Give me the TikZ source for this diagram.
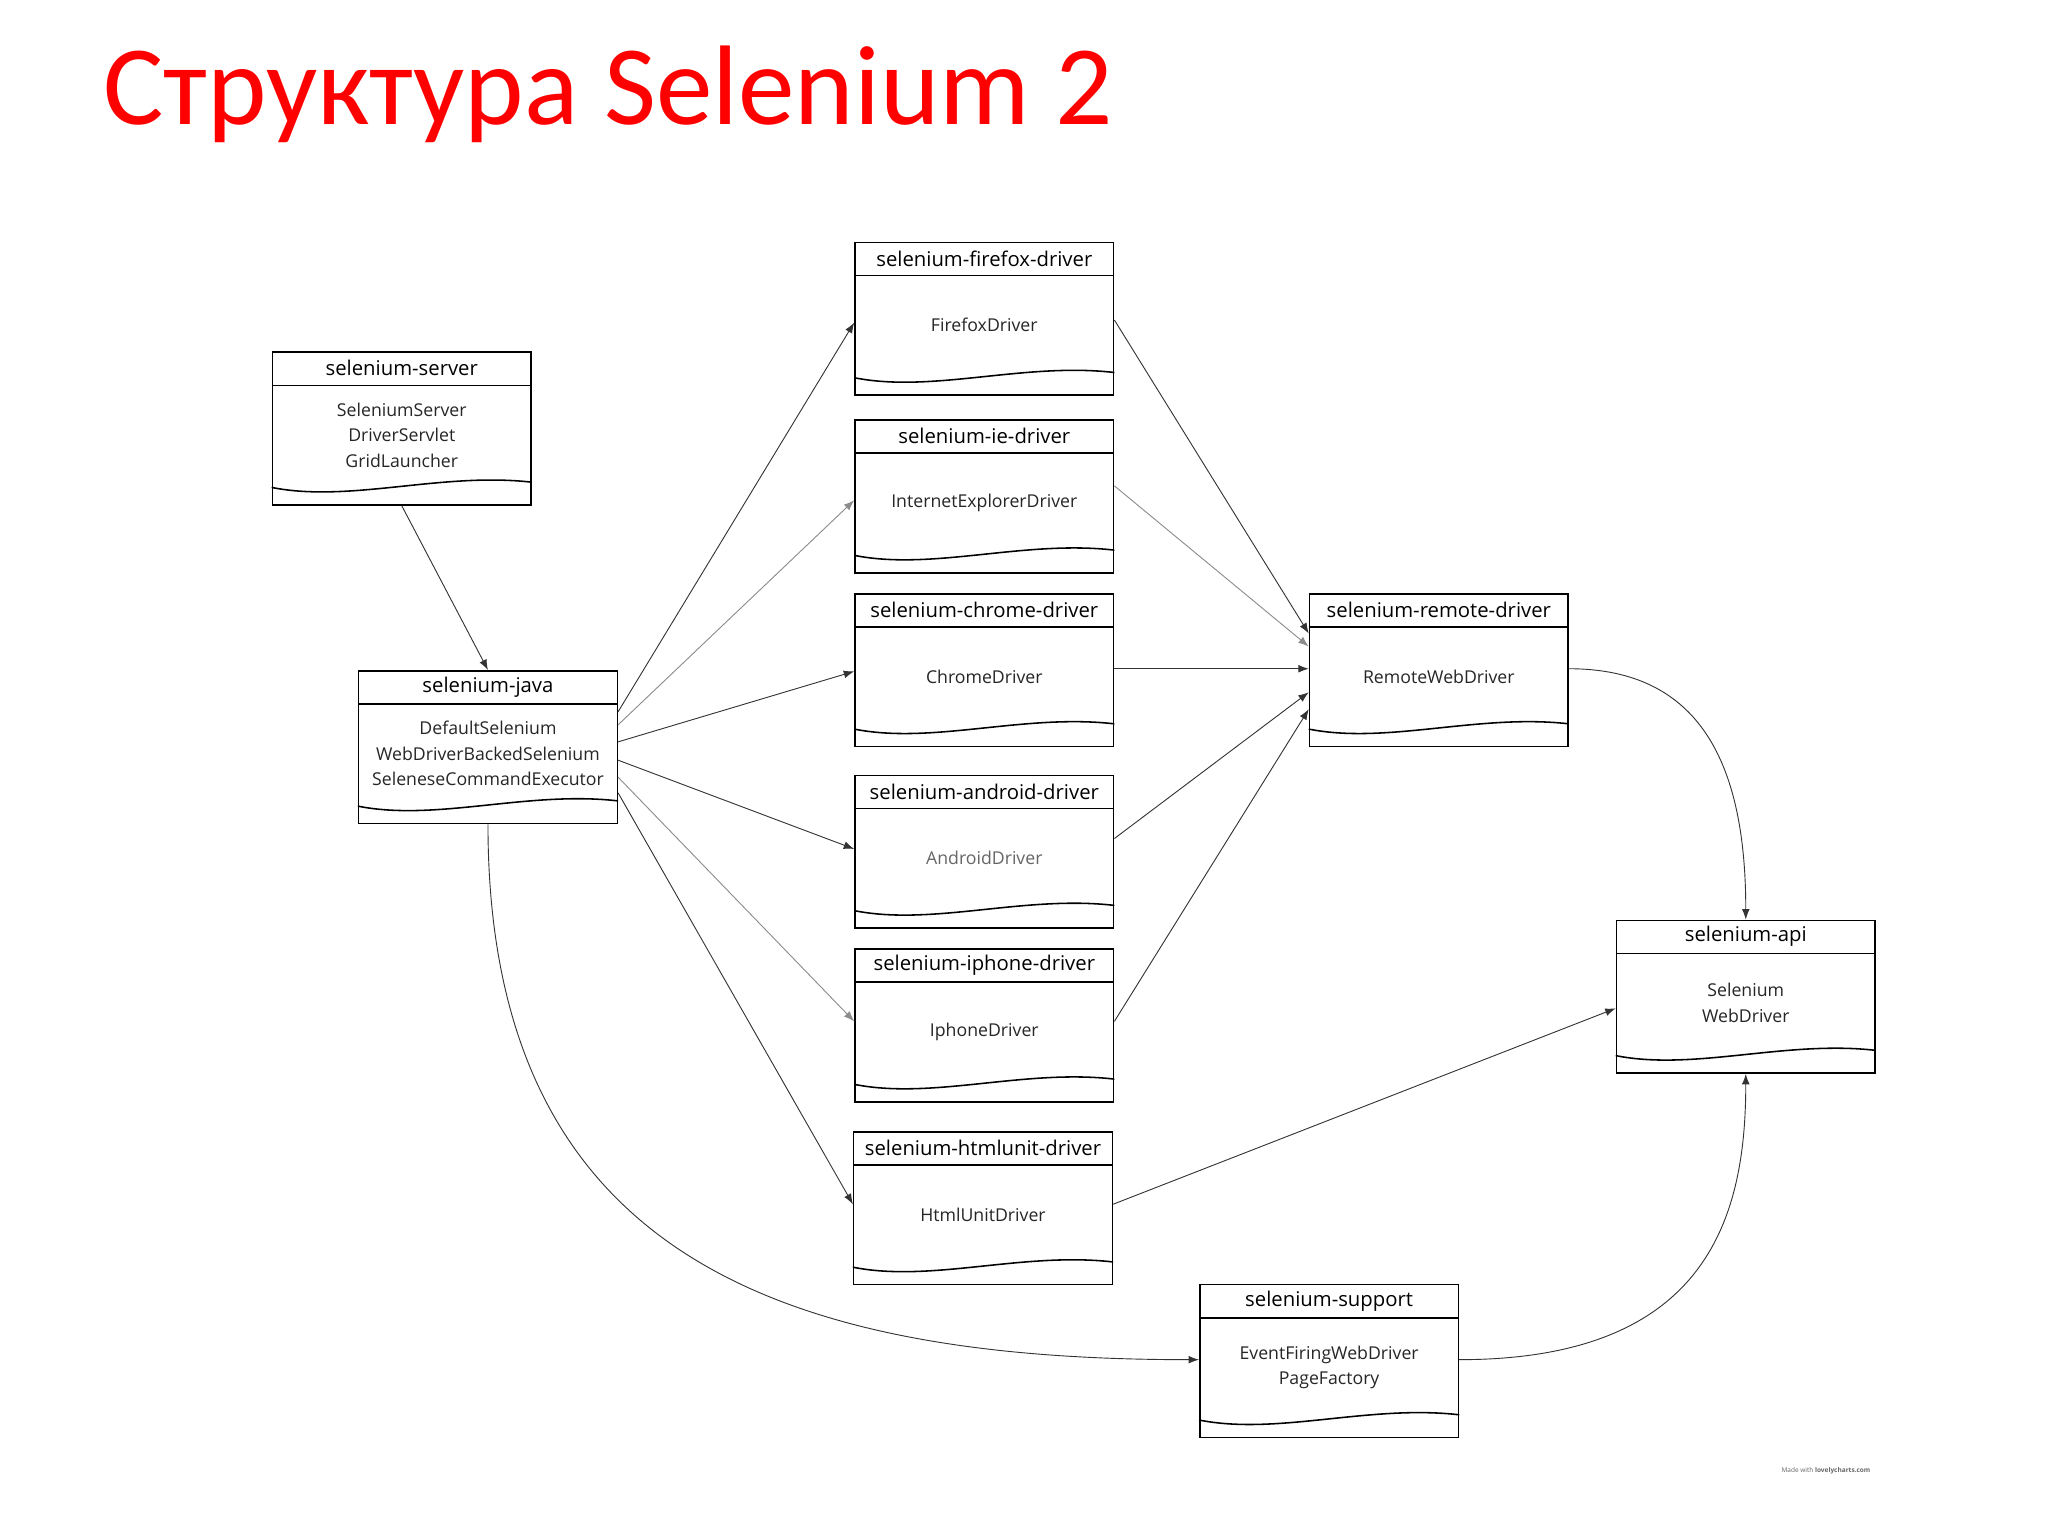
\documentclass[tikz,border=0pt]{standalone}
\usepackage{fontspec}
\setmainfont{Open Sans}
\newfontfamily\titlefont{Carlito}
\usetikzlibrary{calc,arrows.meta}
\newcommand\dbox[5]{%
  \node[draw,line width=0.6pt,minimum width=99bp,minimum height=58.5bp,anchor=north west,inner sep=0pt] (#1) at (#2,-#3) {};
  \draw[line width=0.6pt] ($(#1.north west)+(0,-26)$) -- ($(#1.north east)+(0,-26)$);
  \node[font=\fontsize{7.8}{9}\selectfont] at ($(#1.north)+(0,-13)$) {#4};
  \node[font=\fontsize{6.8}{9.8}\selectfont,align=center,text=black!85] at ($(#1.north)+(0,-64)$) {#5};
  \draw[line width=0.6pt] ($(#1.south west)+(0,14)$) .. controls ($(#1.south west)+(60,2)$) and ($(#1.south west)+(130,26)$) .. ($(#1.south east)+(0,18)$);
}
\begin{document}
\begin{tikzpicture}[x=0.5bp,y=0.5bp,
  conn/.style={line width=0.35pt,draw=black!80,-{Latex[length=4bp,width=3bp]}}]
\useasboundingbox[fill=white] (0,0) rectangle (1568,-1176);
\node[anchor=west,text=red,font=\titlefont\fontsize{43.5}{50}\selectfont] (title) at (72,-72) {Структура Selenium 2};
\dbox{ff}{654}{185}{selenium-firefox-driver}{FirefoxDriver}
\dbox{ie}{654}{321}{selenium-ie-driver}{InternetExplorerDriver}
\dbox{ch}{654}{454}{selenium-chrome-driver}{ChromeDriver}
\dbox{an}{654}{593}{selenium-android-driver}{\textcolor{black!60}{AndroidDriver}}
\dbox{ip}{654}{726}{selenium-iphone-driver}{IphoneDriver}
\dbox{hu}{653}{866}{selenium-htmlunit-driver}{HtmlUnitDriver}
\dbox{sv}{208}{269}{selenium-server}{SeleniumServer\\DriverServlet\\GridLauncher}
\dbox{ja}{274}{513}{selenium-java}{DefaultSelenium\\WebDriverBackedSelenium\\SeleneseCommandExecutor}
\dbox{rm}{1002}{454}{selenium-remote-driver}{RemoteWebDriver}
\dbox{ap}{1237}{704}{selenium-api}{Selenium\\WebDriver}
\dbox{su}{918}{983}{selenium-support}{EventFiringWebDriver\\PageFactory}
\node[font=\fontsize{2.5}{3}\selectfont,text=black!60] (made) at (1398,-1126) {Made with \textbf{lovelycharts.com}};
\draw[conn] (sv.south) -- (ja.north);
\draw[conn] ($(ja.north east)+(0,-32)$) -- ($(ff.north west)+(0,-62)$);
\draw[conn,draw=black!45] ($(ja.north east)+(0,-42)$) -- ($(ie.north west)+(0,-62)$);
\draw[conn] ($(ja.north east)+(0,-55)$) -- ($(ch.north west)+(0,-60)$);
\draw[conn] ($(ja.north east)+(0,-69)$) -- ($(an.north west)+(0,-57)$);
\draw[conn,draw=black!45] ($(ja.north east)+(0,-82)$) -- ($(ip.north west)+(0,-56)$);
\draw[conn] ($(ja.north east)+(0,-94)$) -- ($(hu.north west)+(0,-56)$);
\draw[conn] ($(ff.north east)+(0,-60)$) -- ($(rm.north west)+(0,-31)$);
\draw[conn,draw=black!45] ($(ie.north east)+(0,-51)$) -- ($(rm.north west)+(0,-41)$);
\draw[conn] ($(ch.north east)+(0,-58)$) -- ($(rm.north west)+(0,-58)$);
\draw[conn] ($(an.north east)+(0,-49)$) -- ($(rm.north west)+(0,-76)$);
\draw[conn] ($(ip.north east)+(0,-56)$) -- ($(rm.north west)+(0,-89)$);
\draw[conn] ($(rm.north east)+(0,-58)$) .. controls +(100,0) and +(0,120) .. (ap.north);
\draw[conn] ($(hu.north east)+(0,-56)$) -- ($(ap.north west)+(0,-68)$);
\draw[conn] (ja.south) .. controls +(0,-330) and +(-320,0) .. ($(su.north west)+(0,-58)$);
\draw[conn] ($(su.north east)+(0,-58)$) .. controls +(190,0) and +(0,-110) .. (ap.south);
\end{tikzpicture}
\end{document}
